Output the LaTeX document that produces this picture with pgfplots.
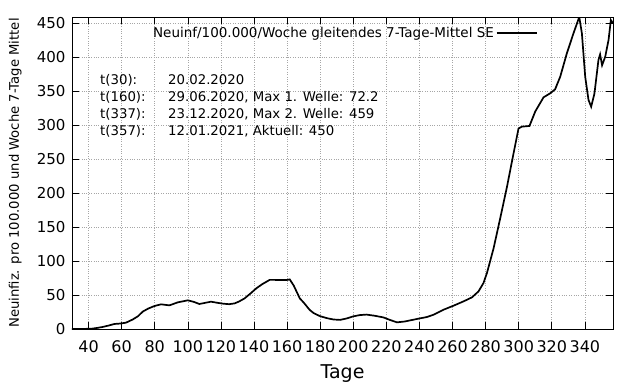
\documentclass[border=0pt]{standalone}
\usepackage{fontspec}
\setmainfont{DejaVu Sans}
\usepackage{pgfplots}
\pgfplotsset{compat=1.18}
\begin{document}
\begin{tikzpicture}[x=1pt,y=1pt]
\path[use as bounding box] (-72,-55) rectangle (568,329);
\begin{axis}[
  scale only axis, width=541pt, height=312pt,
  at={(0,0)}, anchor=south west,
  xmin=30, xmax=357, ymin=0, ymax=459,
  xtick={40,60,...,340}, ytick={0,50,...,450},
  tick align=inside, major tick length=7pt,
  tick style={black, line width=0.6pt},
  axis line style={black, line width=0.9pt},
  grid=major, grid style={gray!70, dotted, line width=0.6pt},
  /pgf/number format/assume math mode=true,
  xticklabel style={font=\fontsize{16}{18}\selectfont, anchor=center, yshift=-17.5pt},
  yticklabel style={font=\fontsize{15}{17}\selectfont, anchor=east, xshift=-3pt},
  xlabel={Tage},
  xlabel style={font=\fontsize{19}{21}\selectfont, at={(axis description cs:0.5,-0.143)}, anchor=center},
  ylabel={Neuinfiz. pro 100.000 und Woche 7-Tage Mittel},
  ylabel style={font=\fontsize{13.2}{15}\selectfont, at={(axis description cs:-0.105,0.5)}, anchor=center},
  legend plot pos=right,
  legend image code/.code={\draw[#1] (0pt,0pt) -- (40pt,0pt);},
  legend style={draw=none, fill=none, at={(axis description cs:0.861,0.949)}, anchor=east,
    font=\fontsize{13.5}{15}\selectfont, inner sep=0pt, row sep=0pt},
  legend cell align=right,
  clip=true,
]
\addplot[black, line width=1.7pt] coordinates {
(30,0) (36,0) (42,0.5) (45,1.5) (48.5,3) (52,5) (55.6,7.4) (59,8) (62.6,9.3) (66.7,14) (70,19) (72.7,25.5) (76,30) (79.8,33.8) (83.8,36.3) (88.9,34.8) (93.9,39.2) (100,42.2) (103.5,40) (107,36.8) (110.5,38.5) (114,40.2) (118,38.5) (121.2,37.3) (125,36.5) (128.3,37.7) (131,40.5) (134.3,45) (138,52.5) (141.4,59.8) (145,66) (149.5,72.3) (155,72.2) (159.6,72) (161.6,73) (164,64) (167.7,45) (170,39) (173.7,28) (176,23.5) (179.8,19) (184,16) (188,14) (192,13.4) (196,15.5) (200,18.6) (204,20.5) (208,21.2) (213,19.5) (218.3,17) (222,13.5) (226.4,9.8) (231,11) (236.4,13.7) (240,15.5) (244.5,17.6) (248.5,21) (254.6,28.4) (260.6,34.3) (266.6,40.6) (271.7,46.5) (275.7,55.3) (278.7,67.6) (280.8,82.3) (284.8,118.5) (288.8,162.6) (292.9,209) (296.9,258.6) (299.9,295) (301.9,297.7) (306.5,298.7) (310,320) (315,340.8) (319,346.7) (322,352.6) (325.1,371.2) (329.1,405.5) (333.1,434.9) (336.6,459) (338.2,434.9) (340.2,371) (342.2,337) (343.8,327) (345.8,346.7) (348.2,395.7) (349.2,404) (350.4,388) (352.3,400.6) (354.3,425) (355.7,454.5) (357,450)
};
\addlegendentry{Neuinf/100.000/Woche gleitendes 7-Tage-Mittel SE}
\end{axis}
\begin{scope}[font=\fontsize{13.3}{15}\selectfont]
\node[anchor=base west, inner sep=0pt] at (28,245) {t(30):};
\node[anchor=base west, inner sep=0pt] at (96,245) {20.02.2020};
\node[anchor=base west, inner sep=0pt] at (28,227.7) {t(160):};
\node[anchor=base west, inner sep=0pt] at (96,227.7) {29.06.2020, Max 1. Welle: 72.2};
\node[anchor=base west, inner sep=0pt] at (28,210.4) {t(337):};
\node[anchor=base west, inner sep=0pt] at (96,210.4) {23.12.2020, Max 2. Welle: 459};
\node[anchor=base west, inner sep=0pt] at (28,193.1) {t(357):};
\node[anchor=base west, inner sep=0pt] at (96,193.1) {12.01.2021, Aktuell: 450};
\end{scope}
\end{tikzpicture}
\end{document}
